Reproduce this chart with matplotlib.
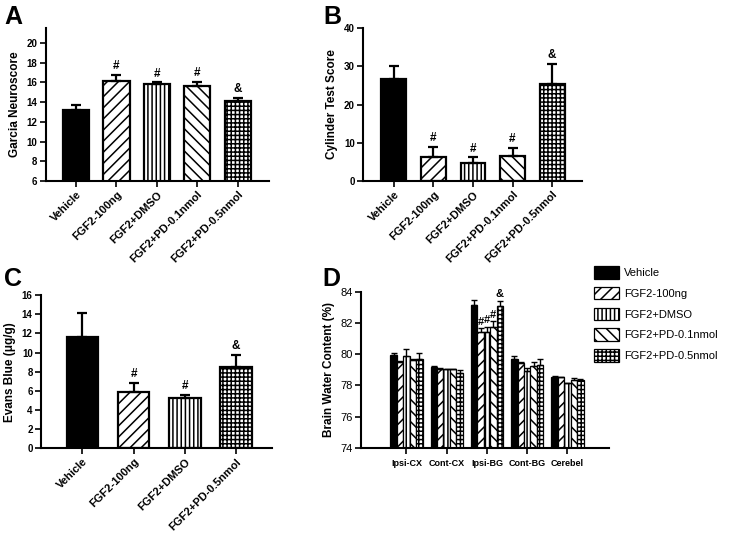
import matplotlib
matplotlib.use("Agg")
import matplotlib.pyplot as plt
import numpy as np

plt.rcParams['font.family'] = ['Liberation Sans', 'DejaVu Sans']
plt.rcParams['hatch.linewidth'] = 1.1

# ---------------- data ----------------
groups5 = ['Vehicle', 'FGF2-100ng', 'FGF2+DMSO', 'FGF2+PD-0.1nmol', 'FGF2+PD-0.5nmol']
hatches5 = ['', '///', '||||', '\\\\\\', '++++']

garcia_mean = [13.19, 16.14, 15.8, 15.66, 14.07]
garcia_err = [0.5, 0.6, 0.2, 0.4, 0.37]
garcia_marks = ['', '#', '#', '#', '&']

cyl_mean = [26.6, 6.4, 4.8, 6.6, 25.3]
cyl_err = [3.5, 2.5, 1.4, 2.1, 5.4]
cyl_marks = ['', '#', '#', '#', '&']

evans_groups = ['Vehicle', 'FGF2-100ng', 'FGF2+DMSO', 'FGF2+PD-0.5nmol']
evans_hatches = ['', '///', '||||', '++++']
evans_mean = [11.58, 5.88, 5.22, 8.52]
evans_err = [2.51, 0.97, 0.38, 1.22]
evans_marks = ['', '#', '#', '&']

regions = ['Ipsi-CX', 'Cont-CX', 'Ipsi-BG', 'Cont-BG', 'Cerebel']
bwc_vehicle = [79.94, 79.19, 83.15, 79.68, 78.55]
bwc_100ng = [79.51, 79.07, 81.44, 79.41, 78.51]
bwc_dmso = [79.88, 79.02, 81.44, 78.94, 78.13]
bwc_pd01 = [79.62, 79.02, 81.72, 79.24, 78.34]
bwc_pd05 = [79.70, 78.81, 83.08, 79.30, 78.34]
bwc_vehicle_err = [0.15, 0.03, 0.32, 0.20, 0.02]
bwc_100ng_err = [0.05, 0.05, 0.21, 0.07, 0.03]
bwc_dmso_err = [0.43, 0.05, 0.32, 0.15, 0.05]
bwc_pd01_err = [0.05, 0.05, 0.40, 0.27, 0.15]
bwc_pd05_err = [0.35, 0.19, 0.34, 0.37, 0.05]
bwc_marks = [['', '', '', '', ''],
             ['', '', '#', '', ''],
             ['', '', '#', '', ''],
             ['', '', '#', '', ''],
             ['', '', '&', '', '']]

# ---------------- figure ----------------
fig = plt.figure(figsize=(7.29, 5.34), dpi=100)

def style_axes(ax, lw=1.5):
    for s in ['top', 'right']:
        ax.spines[s].set_visible(False)
    for s in ['left', 'bottom']:
        ax.spines[s].set_linewidth(lw)
    ax.tick_params(axis='both', direction='out', width=1.2, length=4, pad=2)


def bar_panel(ax, labels, means, errs, hatches, marks, ylim, yticks, ylabel,
              xlim, width):
    x = np.arange(len(labels))
    for i in range(len(labels)):
        fc = 'black' if hatches[i] == '' else 'white'
        ax.bar(x[i], means[i], width=width, bottom=0, color=fc, edgecolor='black',
               hatch=hatches[i], linewidth=1.6, zorder=2)
        ax.errorbar(x[i], means[i], yerr=[[0], [errs[i]]], fmt='none',
                    ecolor='black', elinewidth=1.6, capsize=3.6, capthick=1.6,
                    zorder=3)
        if marks[i]:
            ax.annotate(marks[i], (x[i], means[i] + errs[i]), xytext=(0, 2),
                        textcoords='offset points', ha='center', va='bottom',
                        fontsize=8.5, fontweight='bold')
    ax.set_ylim(*ylim)
    ax.set_yticks(yticks)
    ax.set_xlim(*xlim)
    ax.set_xticks(x)
    ax.set_xticklabels(labels, rotation=45, ha='right', rotation_mode='anchor',
                       fontsize=8, fontweight='bold')
    for t in ax.get_yticklabels():
        t.set_fontsize(7)
        t.set_fontweight('bold')
    ax.set_ylabel(ylabel, fontsize=8.5, fontweight='bold', labelpad=4)
    style_axes(ax)


# Panel A
axA = fig.add_axes([0.0627, 0.661, 0.306, 0.2865])
bar_panel(axA, groups5, garcia_mean, garcia_err, hatches5, garcia_marks,
          (6, 21.5), np.arange(6, 21, 2), 'Garcia Neuroscore', (-0.75, 4.77), 0.65)

# Panel B
axB = fig.add_axes([0.498, 0.661, 0.300, 0.2865])
bar_panel(axB, groups5, cyl_mean, cyl_err, hatches5, cyl_marks,
          (0, 40), np.arange(0, 41, 10), 'Cylinder Test Score', (-0.78, 4.75), 0.63)

# Panel C
axC = fig.add_axes([0.0562, 0.1605, 0.3165, 0.287])
bar_panel(axC, evans_groups, evans_mean, evans_err, evans_hatches, evans_marks,
          (0, 16), np.arange(0, 17, 2), 'Evans Blue (\u03bcg/g)', (-0.81, 3.70), 0.62)

# Panel D
axD = fig.add_axes([0.4952, 0.1616, 0.340, 0.292])
series = [bwc_vehicle, bwc_100ng, bwc_dmso, bwc_pd01, bwc_pd05]
series_err = [bwc_vehicle_err, bwc_100ng_err, bwc_dmso_err, bwc_pd01_err, bwc_pd05_err]
xr = np.arange(len(regions))
bw = 0.16
handles = []
for k in range(5):
    pos = xr + (k - 2) * bw
    fc = 'black' if hatches5[k] == '' else 'white'
    b = axD.bar(pos, np.array(series[k]) - 74, bottom=74, width=bw, color=fc,
                edgecolor='black', hatch=hatches5[k], linewidth=0.9, zorder=2,
                label=groups5[k])
    handles.append(b)
    axD.errorbar(pos, series[k], yerr=[np.zeros(5), series_err[k]], fmt='none',
                 ecolor='black', elinewidth=1.0, capsize=2.2, capthick=1.0, zorder=3)
    for j in range(5):
        if bwc_marks[k][j]:
            axD.annotate(bwc_marks[k][j], (pos[j], series[k][j] + series_err[k][j]),
                         xytext=(0, 1), textcoords='offset points', ha='center',
                         va='bottom', fontsize=8, fontweight='bold')
axD.set_ylim(74, 84)
axD.set_yticks(np.arange(74, 85, 2))
axD.set_xlim(-1.13, 5.03)
axD.set_xticks(xr)
axD.set_xticklabels(regions, fontsize=6.5, fontweight='bold')
for t in axD.get_yticklabels():
    t.set_fontsize(8)
axD.set_ylabel('Brain Water Content (%)', fontsize=8.5, fontweight='bold', labelpad=4)
style_axes(axD)
axD.tick_params(axis='x', pad=4)

leg = axD.legend(handles=handles, loc='upper left', bbox_to_anchor=(0.939, 1.165),
                 frameon=False, fontsize=8, handlelength=2.3, handleheight=1.35,
                 labelspacing=0.75, handletextpad=0.45, borderaxespad=0.0,
                 borderpad=0.0)

# Panel letters
for lab, (px, py) in zip(['A', 'B', 'C', 'D'],
                         [(4, 24), (323, 24), (4, 286), (322, 286)]):
    fig.text(px / 729, 1 - py / 534, lab, fontsize=18, fontweight='bold',
             ha='left', va='baseline')

fig.savefig('out.png', dpi=100)
